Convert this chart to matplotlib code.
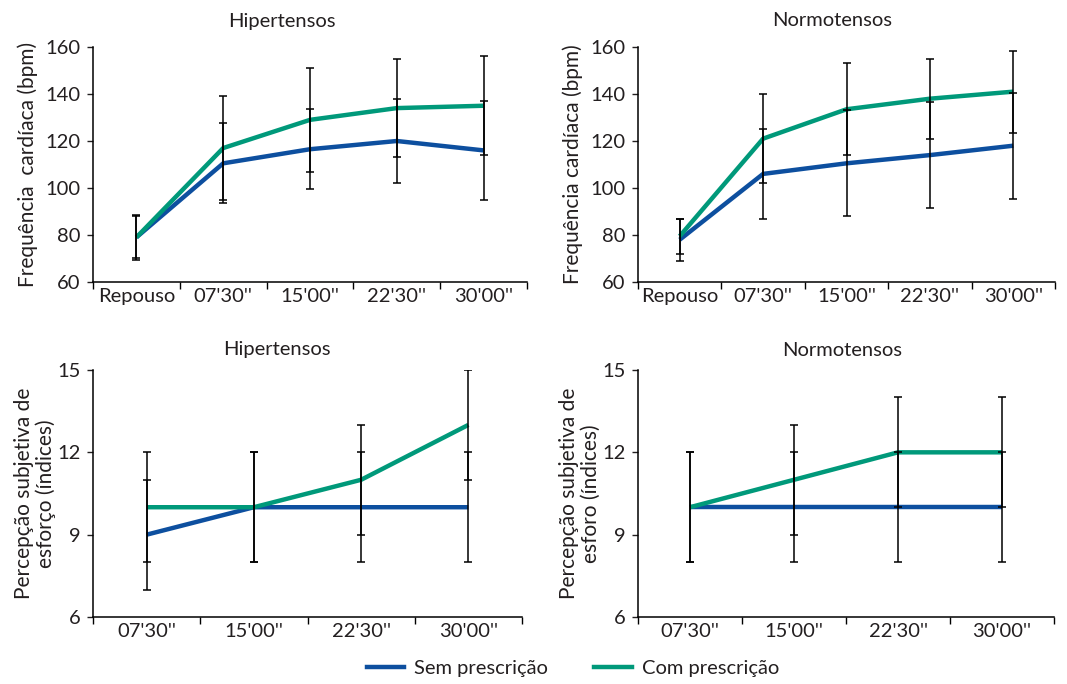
import matplotlib
matplotlib.use("Agg")
import matplotlib.pyplot as plt
from matplotlib.lines import Line2D
from matplotlib.transforms import blended_transform_factory

plt.rcParams['font.family'] = ['Lato', 'DejaVu Sans']

# ---- data ----
hr_cats = ["Repouso", "07'30''", "15'00''", "22'30''", "30'00''"]
rpe_cats = ["07'30''", "15'00''", "22'30''", "30'00''"]

hip_hr_sem = [79, 110.5, 116.5, 120, 116]
hip_hr_sem_err = [9, 17, 17, 18, 21]
hip_hr_com = [79, 117, 129, 134, 135]
hip_hr_com_err = [9.5, 22, 22, 21, 21]

nor_hr_sem = [78, 106, 110.5, 114, 118]
nor_hr_sem_err = [9, 19, 22.5, 22.5, 22.5]
nor_hr_com = [79.5, 121, 133.5, 138, 141]
nor_hr_com_err = [7.5, 19, 19.5, 17, 17.5]

hip_rpe_sem = [9, 10, 10, 10]
hip_rpe_sem_err = [2, 2, 2, 2]
hip_rpe_com = [10, 10, 11, 13]
hip_rpe_com_err = [2, 2, 2, 2]

nor_rpe_sem = [10, 10, 10, 10]
nor_rpe_sem_err = [2, 2, 2, 2]
nor_rpe_com = [10, 11, 12, 12]
nor_rpe_com_err = [2, 2, 2, 2]

BLUE = "#0d4f9f"
GREEN = "#00997a"
TXT = "#231f20"

W, H = 1067, 684
fig = plt.figure(figsize=(W / 100, H / 100), dpi=100)


def add_ax(x0, y0, x1, y1):
    return fig.add_axes([x0 / W, 1 - y1 / H, (x1 - x0) / W, (y1 - y0) / H])


def draw(ax, cats, sem, sem_err, com, com_err, ylim, yticks, title, title_x, title_y,
         ylabel, ylabel_x, ylabel_fs):
    x = list(range(len(cats)))
    ax.plot(x, sem, color=BLUE, lw=3.2, solid_capstyle='butt', zorder=3)
    ax.plot(x, com, color=GREEN, lw=3.2, solid_capstyle='butt', zorder=3)
    ax.errorbar(x, sem, yerr=sem_err, fmt='none', ecolor='black', elinewidth=1.1,
                capsize=3, capthick=1.1, zorder=4)
    ax.errorbar(x, com, yerr=com_err, fmt='none', ecolor='black', elinewidth=1.1,
                capsize=3, capthick=1.1, zorder=4)
    ax.set_xlim(-0.5, len(cats) - 0.5)
    ax.set_ylim(*ylim)
    ax.set_yticks(yticks)
    ax.set_xticks([i - 0.5 for i in range(len(cats) + 1)])
    ax.set_xticklabels([])
    ax.set_xticks(x, minor=True)
    ax.set_xticklabels(cats, minor=True)
    ax.tick_params(axis='x', which='minor', length=0, pad=4, labelsize=14.5, colors=TXT)
    ax.tick_params(axis='x', which='major', length=5, width=1, direction='out')
    ax.tick_params(axis='y', length=4, width=1, direction='out', labelsize=14.5,
                   colors=TXT, pad=5)
    for s in ['top', 'right']:
        ax.spines[s].set_visible(False)
    for s in ['left', 'bottom']:
        ax.spines[s].set_linewidth(1.1)
    fig.text(title_x / W, 1 - title_y / H, title, fontsize=14.5, color=TXT,
             ha='center', va='center')
    ax.set_ylabel(ylabel, fontsize=ylabel_fs, color=TXT, linespacing=1.1, va='center')
    tr = blended_transform_factory(fig.transFigure, ax.transAxes)
    ax.yaxis.set_label_coords(ylabel_x / W, 0.5, transform=tr)


ax1 = add_ax(93, 47, 527, 282)
draw(ax1, hr_cats, hip_hr_sem, hip_hr_sem_err, hip_hr_com, hip_hr_com_err,
     (60, 160), [60, 80, 100, 120, 140, 160], "Hipertensos", 282, 21,
     "Frequência  cardíaca (bpm)", 28, 15)

ax2 = add_ax(638, 47, 1055, 282)
draw(ax2, hr_cats, nor_hr_sem, nor_hr_sem_err, nor_hr_com, nor_hr_com_err,
     (60, 160), [60, 80, 100, 120, 140, 160], "Normotensos", 832, 21,
     "Frequência cardíaca (bpm)", 573, 15)

ax3 = add_ax(93, 370, 522, 617)
draw(ax3, rpe_cats, hip_rpe_sem, hip_rpe_sem_err, hip_rpe_com, hip_rpe_com_err,
     (6, 15), [6, 9, 12, 15], "Hipertensos", 277, 350,
     "Percepção subjetiva de\nesforço (índices)", 35, 15)

ax4 = add_ax(638, 370, 1054, 617)
draw(ax4, rpe_cats, nor_rpe_sem, nor_rpe_sem_err, nor_rpe_com, nor_rpe_com_err,
     (6, 15), [6, 9, 12, 15], "Normotensos", 842, 350,
     "Percepção subjetiva de\nesforo (índices)", 580, 15)

handles = [Line2D([0], [0], color=BLUE, lw=3.2), Line2D([0], [0], color=GREEN, lw=3.2)]
fig.legend(handles, ["Sem prescrição", "Com prescrição"], loc='center',
           bbox_to_anchor=(573 / W, 1 - 668 / H), ncol=2, frameon=False,
           fontsize=14.5, handlelength=1.85, handletextpad=0.5, columnspacing=2.3,
           labelcolor=TXT)

fig.savefig("out.png", dpi=100)
